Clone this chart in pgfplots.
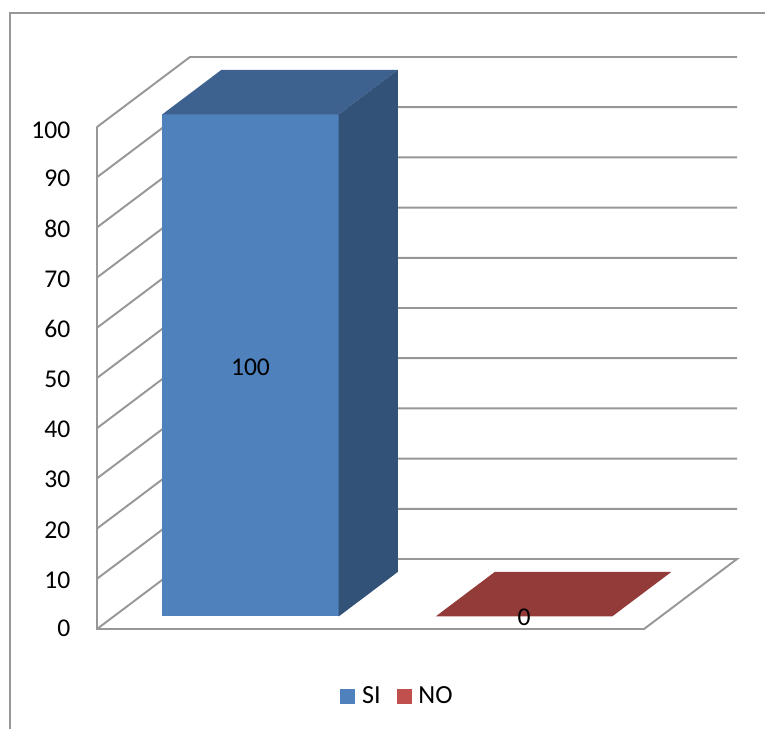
\documentclass[border=0pt]{standalone}
\usepackage{pgfplots}
\pgfplotsset{compat=1.18}
\usepackage{fontspec}
\setmainfont{Carlito}
\definecolor{gridg}{HTML}{979797}
\definecolor{sifront}{HTML}{4F81BD}
\definecolor{sitop}{HTML}{3E628F}
\definecolor{siside}{HTML}{325278}
\definecolor{notop}{HTML}{933B39}
\definecolor{noleg}{HTML}{C0504D}
\begin{document}
\begin{tikzpicture}[x=0.75pt,y=0.75pt]
\useasboundingbox (-97,-100) rectangle (668,629);
\begin{axis}[
  at={(0,0)},anchor=origin,
  x={(205.125pt,0pt)},y={(0.6975pt,0.525pt)},z={(0pt,3.765pt)},
  xmin=0,xmax=2,ymin=0,ymax=100,zmin=0,zmax=100,
  clip=false,
  axis line style={draw=none},
  major tick length=0pt,
  xtick=\empty,ytick=\empty,
  ztick={0,10,20,30,40,50,60,70,80,90,100},
  /pgf/number format/assume math mode=true,
  tick label style={font=\fontsize{19.2}{20}\selectfont,black},
  z tick label style={xshift=-16.5pt,yshift=3.4pt},
  legend columns=2,
  legend style={draw=none,fill=none,font=\fontsize{19.6}{20}\selectfont,
    at={(axis cs:1.1,0,-13.4)},anchor=center,
    /tikz/every even column/.append style={column sep=10pt}},
  legend cell align=left,
]
% walls and floor
\addplot3[forget plot,draw=gridg,line width=1.45pt,unbounded coords=jump] table[x=x,y=y,z=z] {
x y z
0 0 0
0 100 0
2 100 0
nan nan nan
0 0 10
0 100 10
2 100 10
nan nan nan
0 0 20
0 100 20
2 100 20
nan nan nan
0 0 30
0 100 30
2 100 30
nan nan nan
0 0 40
0 100 40
2 100 40
nan nan nan
0 0 50
0 100 50
2 100 50
nan nan nan
0 0 60
0 100 60
2 100 60
nan nan nan
0 0 70
0 100 70
2 100 70
nan nan nan
0 0 80
0 100 80
2 100 80
nan nan nan
0 0 90
0 100 90
2 100 90
nan nan nan
0 0 100
0 100 100
2 100 100
nan nan nan
0 100 0
2 100 0
2 0 0
0 0 0
0 0 100
};
% SI bar
\addplot3[fill=sifront,draw=none,area legend,
  legend image code/.code={\fill[sifront] (0pt,-5.6pt) rectangle (11.25pt,5.6pt);}]
  coordinates {(0.1773,18,0)(0.8227,18,0)(0.8227,18,100)(0.1773,18,100)};
\addlegendentry{\hspace{3pt}SI}
\addplot3[forget plot,fill=sitop,draw=none]
  coordinates {(0.1773,18,100)(0.8227,18,100)(0.8227,81.5,100)(0.1773,81.5,100)};
\addplot3[forget plot,fill=siside,draw=none]
  coordinates {(0.8227,18,0)(0.8227,81.5,0)(0.8227,81.5,100)(0.8227,18,100)};
% NO bar
\addplot3[fill=notop,draw=none,area legend,
  legend image code/.code={\fill[noleg] (0pt,-5.6pt) rectangle (11.25pt,5.6pt);}]
  coordinates {(1.1773,18,0)(1.8227,18,0)(1.8227,81.5,0)(1.1773,81.5,0)};
\addlegendentry{\hspace{3pt}NO}
\node[font=\fontsize{19.2}{20}\selectfont] at (axis cs:0.5,18,49.6) {100};
\node[font=\fontsize{19.2}{20}\selectfont] at (axis cs:1.5,18,-0.2) {0};
\end{axis}
\draw[gridg,line width=1.45pt] (-87,-100) -- (-87,616) -- (668,616);
\end{tikzpicture}
\end{document}
